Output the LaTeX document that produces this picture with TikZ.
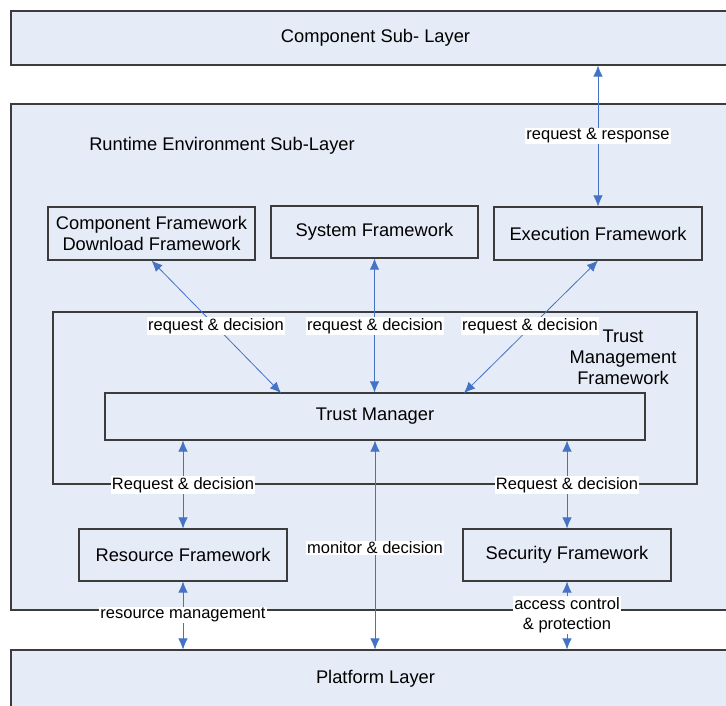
\documentclass[tikz,border=0pt]{standalone}
\usepackage{fontspec}
\setmainfont{Liberation Sans}
\usetikzlibrary{arrows.meta}
\definecolor{layerfill}{RGB}{230,236,247}
\definecolor{arrowblue}{RGB}{68,114,196}
\definecolor{boxline}{RGB}{60,60,60}

\begin{document}
\begin{tikzpicture}[x=1pt,y=-1pt,
    layer/.style={draw=boxline, line width=1.1pt, fill=layerfill, inner sep=0pt, font=\fontsize{18.3}{21}\selectfont},
    fwbox/.style={draw=boxline, line width=1.1pt, fill=layerfill, inner sep=0pt, align=center, font=\fontsize{18.3}{21}\selectfont},
    plain/.style={inner sep=0pt, align=center, font=\fontsize{18.3}{21}\selectfont},
    lbl/.style={fill=white, inner sep=1pt, align=center, font=\fontsize{16.5}{19}\selectfont},
    link/.style={draw=arrowblue, line width=0.8pt, {Latex[length=11pt,width=9.5pt]}-{Latex[length=11pt,width=9.5pt]}}]
    \useasboundingbox (0,0) rectangle (726,706);
    \node[layer, minimum width=729pt, minimum height=54pt] (cl) at (375.5,38) {Component Sub- Layer};
    \node[layer, minimum width=729pt, minimum height=506pt] (rt) at (375.5,357) {};
    \node[layer, minimum width=729pt, minimum height=58pt] (pl) at (375.5,679) {Platform Layer};
    \node[plain] (rtname) at (222,146) {Runtime Environment Sub-Layer};
    \node[fwbox, minimum width=644pt, minimum height=172pt] (tmf) at (375,398) {};
    \node[plain] (tmfname) at (623,357) {Trust\\Management\\Framework};
    \node[fwbox, minimum width=207pt, minimum height=53pt] (cf) at (151.5,233.5) {Component Framework\\Download Framework};
    \node[fwbox, minimum width=207pt, minimum height=52pt] (sf) at (374.5,232) {System Framework};
    \node[fwbox, minimum width=208pt, minimum height=53pt] (ef) at (598,233.5) {Execution Framework};
    \node[fwbox, minimum width=540pt, minimum height=47pt] (tm) at (375,416.5) {Trust Manager};
    \node[fwbox, minimum width=208pt, minimum height=52pt] (rf) at (183,555) {Resource Framework};
    \node[fwbox, minimum width=208pt, minimum height=52pt] (scf) at (567,555) {Security Framework};
    \coordinate (tmcf) at (281,393);
    \coordinate (tmef) at (464,393);
    \draw[link] (cl.south -| ef) -- (ef.north);
    \draw[link] (cf.south) -- (tmcf);
    \draw[link] (sf.south) -- (sf.south |- tm.north);
    \draw[link] (ef.south) -- (tmef);
    \draw[link] (rf.north |- tm.south) -- (rf.north);
    \draw[link] (scf.north |- tm.south) -- (scf.north);
    \draw[link] (tm.south) -- (tm.south |- pl.north);
    \draw[link] (rf.south) -- (rf.south |- pl.north);
    \draw[link] (scf.south) -- (scf.south |- pl.north);
    \node[lbl] (rr) at (598,136) {request \& response};
    \node[lbl] (rdcf) at (216,326) {request \& decision};
    \node[lbl] (rdsf) at (375,326) {request \& decision};
    \node[lbl] (rdef) at (530,326) {request \& decision};
    \node[lbl] (rdrf) at (183,485) {Request \& decision};
    \node[lbl] (rdscf) at (567,485) {Request \& decision};
    \node[lbl] (md) at (375,548) {monitor \& decision};
    \node[lbl] (rm) at (183,615) {resource management};
    \node[lbl, font=\fontsize{16.5}{20}\selectfont] (acp) at (567,615) {access control\\\& protection};
\end{tikzpicture}
\end{document}
